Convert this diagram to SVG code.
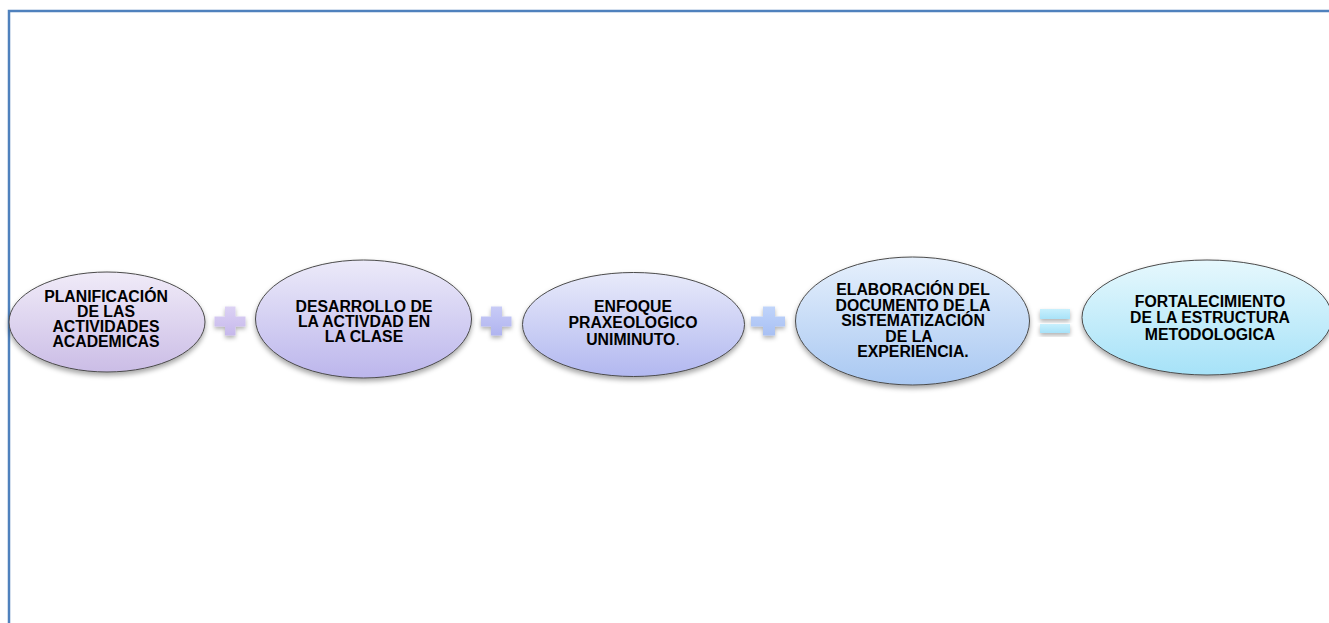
<svg xmlns="http://www.w3.org/2000/svg" width="1329" height="623" viewBox="0 0 1329 623">
<style>
.frame{fill:none;stroke:#4f81bd;stroke-width:2.5}
.node ellipse{stroke:#4a4a4a;stroke-width:1;filter:url(#shadow)}
.node text{font-family:"Liberation Sans",Arial,sans-serif;font-weight:bold;font-size:15.8px;fill:#000;text-anchor:middle}
.op{filter:url(#shadowS)}
</style>
<defs>
<filter id="shadow" x="-10%" y="-10%" width="120%" height="130%">
<feDropShadow dx="0" dy="3" stdDeviation="2.5" flood-color="#000" flood-opacity="0.35"/>
</filter>
<filter id="shadowS" x="-30%" y="-30%" width="160%" height="170%">
<feDropShadow dx="0" dy="2.5" stdDeviation="2" flood-color="#000" flood-opacity="0.3"/>
</filter>
<linearGradient id="g1" x1="0" y1="0" x2="0" y2="1"><stop offset="0" stop-color="#f0ebf8"/><stop offset="1" stop-color="#cbbde6"/></linearGradient>
<linearGradient id="g2" x1="0" y1="0" x2="0" y2="1"><stop offset="0" stop-color="#eceaf9"/><stop offset="1" stop-color="#bcb6ec"/></linearGradient>
<linearGradient id="g3" x1="0" y1="0" x2="0" y2="1"><stop offset="0" stop-color="#e8eafa"/><stop offset="1" stop-color="#b2b8f0"/></linearGradient>
<linearGradient id="g4" x1="0" y1="0" x2="0" y2="1"><stop offset="0" stop-color="#e6f0fc"/><stop offset="1" stop-color="#a9c8f2"/></linearGradient>
<linearGradient id="g5" x1="0" y1="0" x2="0" y2="1"><stop offset="0" stop-color="#e6f8fd"/><stop offset="1" stop-color="#a6e2f8"/></linearGradient>
<linearGradient id="p1" x1="0" y1="0" x2="0" y2="1"><stop offset="0" stop-color="#dcd2f4"/><stop offset="1" stop-color="#c6b8ec"/></linearGradient>
<linearGradient id="p2" x1="0" y1="0" x2="0" y2="1"><stop offset="0" stop-color="#c8cbf6"/><stop offset="1" stop-color="#b0b4f0"/></linearGradient>
<linearGradient id="p3" x1="0" y1="0" x2="0" y2="1"><stop offset="0" stop-color="#c0d4fa"/><stop offset="1" stop-color="#a8c0f4"/></linearGradient>
<linearGradient id="p4" x1="0" y1="0" x2="0" y2="1"><stop offset="0" stop-color="#c8f0fd"/><stop offset="1" stop-color="#a8e2f8"/></linearGradient>
</defs>
<rect width="1329" height="623" fill="#fff"/>
<path class="frame" d="M9 623 V11 H1329"/>

<g id="connectors">
<path class="op" fill="url(#p1)" d="M225 306.5 h10.5 v10 h10 v10 h-10 v9 h-10.5 v-9 h-10.5 v-10 h10.5 z"/>
<path class="op" fill="url(#p2)" d="M491 306.5 h11 v10 h9.5 v10 h-9.5 v9 h-11 v-9 h-10 v-10 h10 z"/>
<path class="op" fill="url(#p3)" d="M763 306.5 h12 v10 h10 v10 h-10 v9 h-12 v-9 h-12 v-10 h12 z"/>
<rect class="op" x="1040" y="309" width="30" height="10" fill="url(#p4)"/>
<rect class="op" x="1040" y="324" width="30" height="9" fill="url(#p4)"/>
</g>

<g id="n1" class="node">
<ellipse cx="107" cy="322" rx="98" ry="50" fill="url(#g1)"/>
<text x="106"><tspan x="106" y="301.5">PLANIFICACIÓN</tspan><tspan x="106" y="316.5">DE LAS</tspan><tspan x="106" y="331.5">ACTIVIDADES</tspan><tspan x="106" y="346.5">ACADEMICAS</tspan></text>
</g>

<g id="n2" class="node">
<ellipse cx="363.5" cy="319" rx="108" ry="59" fill="url(#g2)"/>
<text><tspan x="364" y="311.5">DESARROLLO DE</tspan><tspan x="364" y="326.5">LA ACTIVDAD EN</tspan><tspan x="364" y="341.5">LA CLASE</tspan></text>
</g>

<g id="n3" class="node">
<ellipse cx="633.5" cy="324.5" rx="111" ry="52" fill="url(#g3)"/>
<text><tspan x="633" y="311.5">ENFOQUE</tspan><tspan x="633" y="328">PRAXEOLOGICO</tspan><tspan x="633" y="344.5">UNIMINUTO<tspan font-weight="normal">.</tspan></tspan></text>
</g>

<g id="n4" class="node">
<ellipse cx="912.5" cy="321" rx="117" ry="64" fill="url(#g4)"/>
<text><tspan x="913" y="295">ELABORACIÓN DEL</tspan><tspan x="913" y="310.5">DOCUMENTO DE LA</tspan><tspan x="913" y="326">SISTEMATIZACIÓN</tspan><tspan x="909" y="341.5">DE LA</tspan><tspan x="913" y="357">EXPERIENCIA.</tspan></text>
</g>

<g id="n5" class="node">
<ellipse cx="1207" cy="317.5" rx="125" ry="57.5" fill="url(#g5)"/>
<text><tspan x="1210" y="306.5">FORTALECIMIENTO</tspan><tspan x="1210" y="323">DE LA ESTRUCTURA</tspan><tspan x="1210" y="339.5">METODOLOGICA</tspan></text>
</g>
</svg>
